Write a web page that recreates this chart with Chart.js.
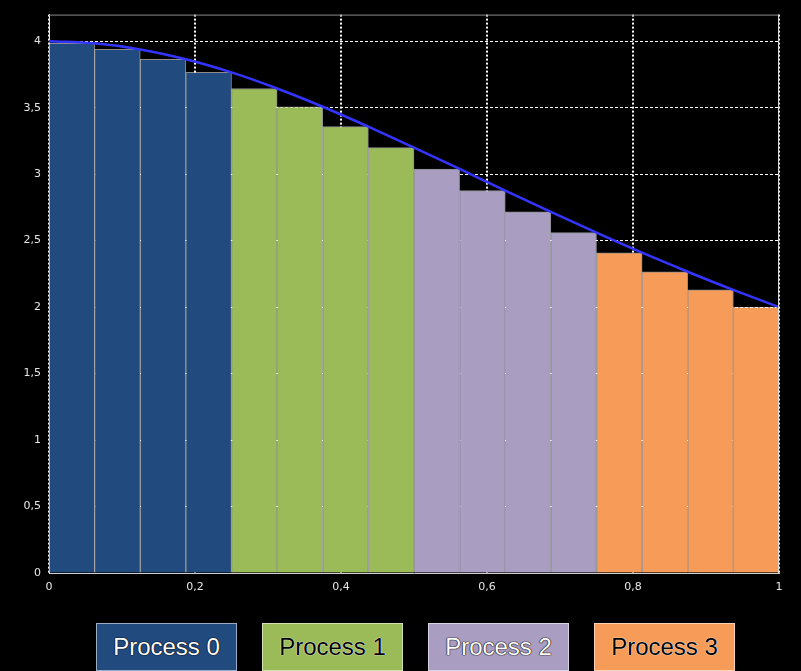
<!DOCTYPE html>
<html>
<head>
<meta charset="utf-8">
<script src="https://cdn.jsdelivr.net/npm/chart.js@4/dist/chart.umd.min.js"></script>
<style>
  html, body { margin: 0; padding: 0; background: #000; }
  #wrap { position: relative; width: 801px; height: 671px; overflow: hidden; background: #000; }
  #chartBox { position: absolute; left: 0; top: 0; width: 801px; height: 600px; }
  .key {
    position: absolute; top: 623px; width: 141px; height: 48px;
    border: 1px solid rgba(255,255,255,0.55); box-sizing: border-box;
    font: 24px "Liberation Sans", Arial, sans-serif; line-height: 46px; text-align: center;
  }
  .light { color: #fff; text-shadow: 0 0 1px #000, 0 0 1px #000, 0 0 1px #000; }
  .dark { color: #000; text-shadow: 0 0 1px #fff, 0 0 1px #fff; }
</style>
</head>
<body>
<div id="wrap">
  <div id="chartBox"><canvas id="piChart"></canvas></div>
  <div id="legend"></div>
</div>
<script>
// Riemann sum of 4/(1+x^2) split across 4 processes
const processes = ['Process 0', 'Process 1', 'Process 2', 'Process 3'];
const processColors = ['#214a7f', '#9bbb59', '#a99dc1', '#f79c58'];
const processText = ['light', 'dark', 'light', 'dark'];

// bar heights (right end of each interval), 4 intervals per process
const barHeights = [3.984, 3.938, 3.864, 3.765,
                    3.644, 3.507, 3.357, 3.200,
                    3.039, 2.876, 2.716, 2.560,
                    2.409, 2.266, 2.129, 2.000];
const barOwner = [0, 0, 0, 0, 1, 1, 1, 1, 2, 2, 2, 2, 3, 3, 3, 3];

// curve points
const curveX = [0, 0.0625, 0.125, 0.1875, 0.25, 0.3125, 0.375, 0.4375, 0.5,
                0.5625, 0.625, 0.6875, 0.75, 0.8125, 0.875, 0.9375, 1];
const curveY = [4.000, 3.984, 3.938, 3.864, 3.765, 3.644, 3.507, 3.357, 3.200,
                3.039, 2.876, 2.716, 2.560, 2.409, 2.266, 2.129, 2.000];

const xTicks = [0, 0.2, 0.4, 0.6, 0.8, 1];
const yTicks = [0, 0.5, 1, 1.5, 2, 2.5, 3, 3.5, 4];

const n = barHeights.length;
const barData = barHeights.map((h, i) => ({ x: (i + 0.5) / n, y: h }));
const curveData = curveX.map((x, i) => ({ x: x, y: curveY[i] }));

const comma = v => String(v).replace('.', ',');

const framePlugin = {
  id: 'frame',
  afterDatasetsDraw(chart) {
    const { ctx, chartArea: a } = chart;
    ctx.save();
    ctx.lineWidth = 1;
    ctx.strokeStyle = '#8a8a8a';
    ctx.beginPath();
    ctx.moveTo(a.left, a.top + 0.5);
    ctx.lineTo(a.right, a.top + 0.5);
    ctx.stroke();
    ctx.strokeStyle = '#d8d8d8';
    ctx.beginPath();
    ctx.moveTo(a.right - 0.5, a.top);
    ctx.lineTo(a.right - 0.5, a.bottom);
    ctx.stroke();
    ctx.restore();
  }
};

const tickFont = { family: 'DejaVu Sans', size: 11 };

new Chart(document.getElementById('piChart'), {
  type: 'bar',
  data: {
    datasets: [
      {
        type: 'line',
        data: curveData,
        borderColor: '#3434ff',
        borderWidth: 2.5,
        pointRadius: 0,
        cubicInterpolationMode: 'monotone',
        order: 0
      },
      {
        type: 'bar',
        data: barData,
        backgroundColor: barOwner.map(p => processColors[p]),
        borderColor: 'rgba(255,255,255,0.55)',
        borderWidth: 1,
        barPercentage: 1,
        categoryPercentage: 1,
        order: 1
      }
    ]
  },
  options: {
    responsive: true,
    maintainAspectRatio: false,
    animation: false,
    layout: { padding: { top: 13, right: 22, left: 0, bottom: 0 } },
    plugins: { legend: { display: false }, tooltip: { enabled: false } },
    scales: {
      x: {
        type: 'linear',
        min: 0,
        max: 1,
        offset: false,
        afterBuildTicks: s => { s.ticks = xTicks.map(v => ({ value: v })); },
        afterFit: s => { s.height = 27; },
        ticks: { color: '#e6e6e6', font: tickFont, padding: 8, maxRotation: 0, callback: comma },
        grid: { offset: false, color: '#ffffff', lineWidth: 2, drawTicks: false },
        border: { color: '#cfcfcf', width: 1, dash: [2, 2] }
      },
      y: {
        min: 0,
        max: 4.2,
        afterBuildTicks: s => { s.ticks = yTicks.map(v => ({ value: v })); },
        afterFit: s => { s.width = 49; },
        ticks: { color: '#e6e6e6', font: tickFont, padding: 8, callback: comma },
        grid: { color: '#ffffff', lineWidth: 1, drawTicks: false },
        border: { color: '#e0e0e0', width: 1, dash: [3, 2] }
      }
    }
  },
  plugins: [framePlugin]
});

// legend boxes
const legend = document.getElementById('legend');
processes.forEach((name, i) => {
  const d = document.createElement('div');
  d.className = 'key ' + processText[i];
  d.style.left = (96 + i * 166) + 'px';
  d.style.background = processColors[i];
  d.textContent = name;
  legend.appendChild(d);
});
</script>
</body>
</html>
